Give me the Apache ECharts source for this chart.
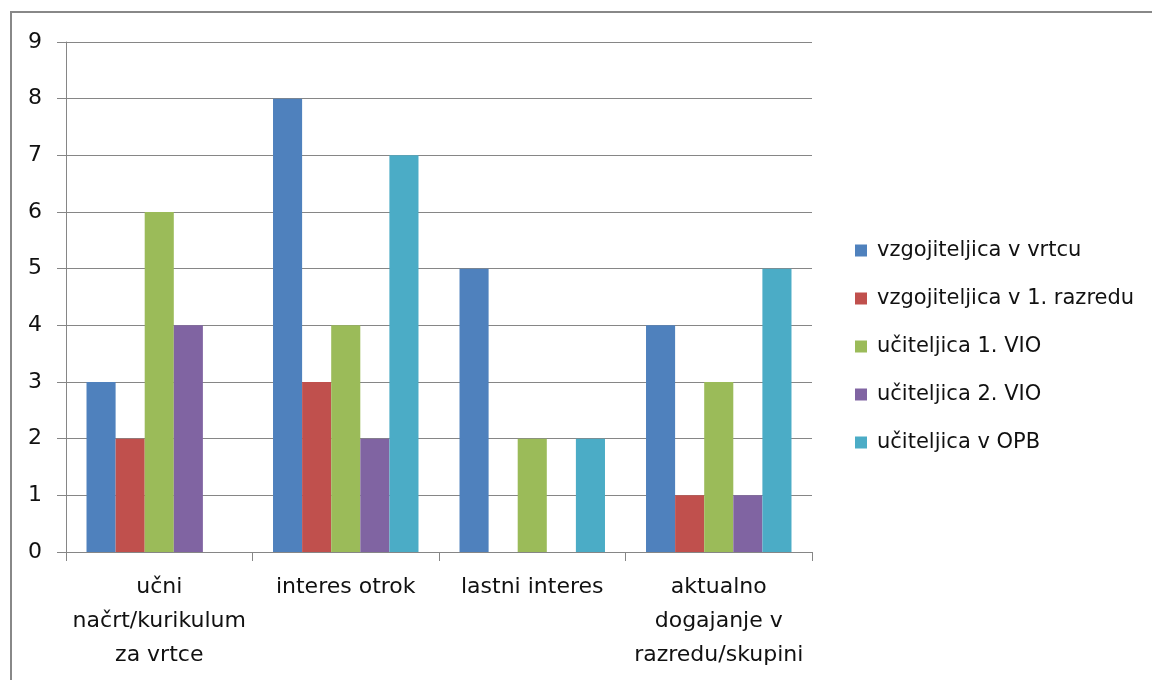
<!DOCTYPE html>
<html>
<head>
<meta charset="utf-8">
<script src="https://cdn.jsdelivr.net/npm/echarts@6/dist/echarts.min.js"></script>
<style>html,body{margin:0;padding:0;background:#fff}#c{width:1152px;height:680px}</style>
</head>
<body>
<div id="c"></div>
<script>
const categories = ['učni\nnačrt/kurikulum\nza vrtce', 'interes otrok', 'lastni interes', 'aktualno\ndogajanje v\nrazredu/skupini'];
const seriesNames = ['vzgojiteljica v vrtcu', 'vzgojiteljica v 1. razredu', 'učiteljica 1. VIO', 'učiteljica 2. VIO', 'učiteljica v OPB'];
const vzgVrtec = [3, 8, 5, 4];
const vzg1Razred = [2, 3, 0, 1];
const uc1VIO = [6, 4, 2, 3];
const uc2VIO = [4, 2, 0, 1];
const ucOPB = [0, 7, 2, 5];
const yTicks = [0, 1, 2, 3, 4, 5, 6, 7, 8, 9];
const colors = ['#4F81BD', '#C0504D', '#9BBB59', '#8064A2', '#4BACC6'];
const values = [vzgVrtec, vzg1Razred, uc1VIO, uc2VIO, ucOPB];

const font = 'DejaVu Sans, sans-serif';
const chart = echarts.init(document.getElementById('c'), null, {renderer: 'canvas'});
chart.setOption({
  animation: false,
  color: colors,
  textStyle: {fontFamily: font},
  graphic: [{
    type: 'rect', shape: {x: 11, y: 12, width: 1200, height: 720},
    style: {fill: 'none', stroke: '#888888', lineWidth: 2}, silent: true, z: -1
  }],
  grid: {left: 66, top: 42, right: 340, bottom: 128, containLabel: false},
  legend: {
    orient: 'vertical', left: 850, top: 235, itemGap: 27,
    itemWidth: 12, itemHeight: 12, icon: 'rect',
    textStyle: {fontFamily: font, fontSize: 21, color: '#111', padding: [0, 0, 0, 5]},
    data: seriesNames
  },
  xAxis: {
    type: 'category', data: categories,
    axisLine: {lineStyle: {color: '#868686', width: 1}},
    axisTick: {show: true, length: 9, lineStyle: {color: '#868686'}},
    axisLabel: {fontFamily: font, fontSize: 22, color: '#111', lineHeight: 34, margin: 18, interval: 0}
  },
  yAxis: {
    type: 'value', min: yTicks[0], max: yTicks[yTicks.length - 1], interval: 1,
    axisLine: {show: true, lineStyle: {color: '#868686', width: 1}},
    axisTick: {show: true, length: 9, lineStyle: {color: '#868686'}},
    splitLine: {lineStyle: {color: '#868686', width: 1}},
    axisLabel: {fontFamily: font, fontSize: 22, color: '#111', margin: 24}
  },
  series: seriesNames.map((n, i) => ({
    name: n, type: 'bar', data: values[i],
    barGap: '0%', barCategoryGap: '22%',
    itemStyle: {color: colors[i]}
  }))
});
</script>
</body>
</html>
